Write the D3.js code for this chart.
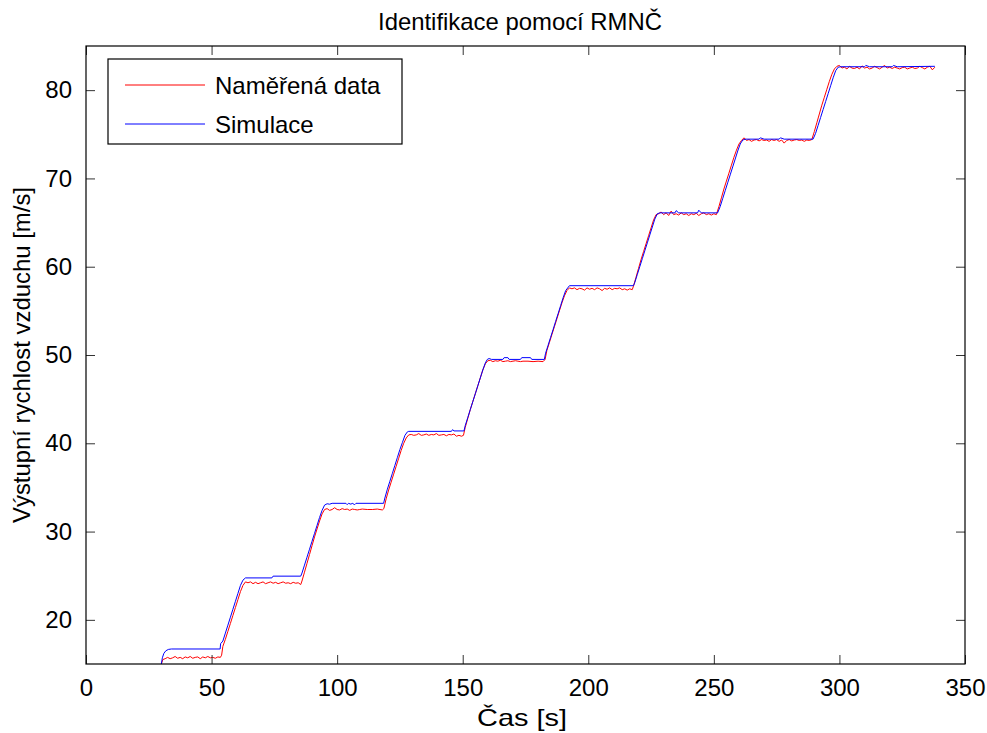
<!DOCTYPE html>
<html>
<head>
<meta charset="utf-8">
<script src="https://cdn.jsdelivr.net/npm/d3@7"></script>
<style>
  body { margin: 0; background: #fff; }
  svg { display: block; }
  .tick-label { font-family: "Liberation Sans", Arial, sans-serif; font-size: 24px; fill: #000; }
  .label { font-family: "Liberation Sans Narrow", "Liberation Sans", Arial, sans-serif; fill: #000; }
</style>
</head>
<body>
<div id="chart"></div>
<script>
const titleText = "Identifikace pomocí RMNČ";
const xLabel = "Čas [s]";
const yLabel = "Výstupní rychlost vzduchu [m/s]";
const seriesNames = ["Naměřená data", "Simulace"];
const xTicks = [0, 50, 100, 150, 200, 250, 300, 350];
const yTicks = [20, 30, 40, 50, 60, 70, 80];

// measured data (red)
const measT = [30, 30.6, 31.5, 32.5, 33.5, 34.5, 35.5, 36.5, 37.5, 38.5, 39.5, 40.5, 41.5, 42.5, 43.5, 44.5, 45.5, 46.5, 47.5, 48.5, 49.5, 50.5, 51.5, 52.5, 53.5, 54, 54.5, 55.5, 56.5, 57.5, 58.5, 59.5, 60.5, 61.5, 62.5, 63.5,
  64.5, 65.5, 66.5, 67.5, 68.5, 69.5, 70.5, 71.5, 72.5, 73.5, 74.5, 75.5, 76.5, 77.5, 78.5, 79.5, 80.5, 81.5, 82.5, 83.5, 84.5, 85.5,
  86, 87, 88, 89, 90, 91, 92, 93, 94, 95, 96, 97, 98, 99, 100, 101, 102, 103, 104, 105, 106, 107, 108, 109, 110, 112, 114, 116, 118, 118.6,
  119.5, 120.5, 121.5, 122.5, 123.5, 124.5, 125.5, 126.5, 127.5, 128.5, 129.5, 130.5, 131.5, 132.5, 133.5, 134.5, 135.5, 136.5, 137.5, 138.5, 139.5, 140.5, 141.5, 142.5, 143.5, 144.5, 145.5, 146.5, 147.5, 148.5, 149.5, 150.3,
  151, 152, 153, 154, 155, 156, 157, 158, 159, 160, 161, 162, 163, 164, 165, 166, 167, 168, 169, 170, 171, 172, 173, 174, 176, 178, 180, 182, 182.8,
  183.5, 184.5, 185.5, 186.5, 187.5, 188.5, 189.5, 190.5, 191.5, 192.5, 193.5, 194.5, 195.5, 196.5, 197.5, 198.5, 199.5, 200.5, 201.5, 202.5, 203.5, 204.5, 205.5, 206.5, 207.5, 208.5, 209.5, 210.5, 211.5, 212.5, 213.5, 214.5, 215.5, 216.5, 217.5,
  218, 219, 220, 221, 222, 223, 224, 225, 226, 227, 228, 229, 230, 231, 232, 233, 234, 235, 236, 237, 238, 239, 240, 241, 242, 243, 244, 245, 246, 247, 248, 249, 250, 251,
  252, 253, 254, 255, 256, 257, 258, 259, 260, 261, 262, 263, 264, 265, 266, 267, 268, 269, 270, 271, 272, 273, 274, 275, 276, 277, 278, 279, 280, 281, 282, 283, 284, 285, 286, 287, 288, 289,
  290, 291, 292, 293, 294, 295, 296, 297, 298, 299, 300, 301, 302, 303, 304, 305, 306, 307, 308, 309, 310, 311, 312, 313, 314, 315, 316, 317, 318, 319, 320, 321, 322, 323, 324, 325, 326, 327, 328, 329, 330, 331, 332, 333, 334, 335, 336, 337, 338];
const measV = [15, 15.5, 15.6, 15.75, 15.6, 15.7, 15.85, 15.65, 15.75, 15.6, 15.8, 15.7, 15.85, 15.65, 15.75, 15.8, 15.6, 15.8, 15.7, 15.85, 15.7, 15.75, 15.65, 15.8, 15.75, 16, 17, 17.8, 18.7, 19.6, 20.5, 21.4, 22.3, 23.2, 23.9, 24.3,
  24.2, 24.3, 24.1, 24.25, 24.1, 24.2, 24.3, 24.1, 24.2, 24.3, 24.15, 24.25, 24.1, 24.2, 24.3, 24.15, 24.2, 24.1, 24.25, 24.15, 24.2, 24,
  24.4, 25.4, 26.4, 27.4, 28.4, 29.4, 30.3, 31.2, 32.0, 32.5, 32.6, 32.4, 32.5, 32.7, 32.5, 32.45, 32.6, 32.5, 32.55, 32.4, 32.55, 32.5, 32.45, 32.5, 32.55, 32.5, 32.5, 32.55, 32.45, 32.6,
  33.7, 34.7, 35.6, 36.5, 37.4, 38.3, 39.2, 40.0, 40.6, 40.95, 41, 40.9, 40.95, 41.1, 40.9, 40.95, 41.05, 40.9, 41, 40.95, 41.1, 40.9, 40.95, 41, 40.85, 41, 40.95, 41.05, 40.8, 40.9, 40.8, 40.9,
  41.8, 42.8, 43.8, 44.7, 45.6, 46.5, 47.4, 48.3, 49.0, 49.35, 49.4, 49.25, 49.35, 49.3, 49.4, 49.25, 49.3, 49.35, 49.25, 49.3, 49.35, 49.3, 49.25, 49.3, 49.3, 49.25, 49.3, 49.25, 49.5,
  50.5, 51.4, 52.3, 53.2, 54.1, 55.0, 55.9, 56.7, 57.3, 57.6, 57.5, 57.6, 57.4, 57.55, 57.5, 57.35, 57.6, 57.45, 57.55, 57.4, 57.6, 57.5, 57.3, 57.55, 57.45, 57.6, 57.4, 57.55, 57.5, 57.6, 57.4, 57.5, 57.35, 57.5, 57.4,
  57.8, 58.8, 59.8, 60.8, 61.7, 62.6, 63.5, 64.4, 65.3, 65.9, 66, 66.2, 65.9, 66.1, 65.8, 66.3, 65.9, 66, 65.85, 66.1, 65.9, 66, 65.8, 66, 65.9, 66.05, 65.8, 66, 66.1, 65.9, 66, 65.85, 66, 65.9,
  66.8, 67.8, 68.8, 69.7, 70.6, 71.5, 72.4, 73.2, 73.9, 74.3, 74.6, 74.3, 74.4, 74.2, 74.35, 74.4, 74.25, 74.4, 74.3, 74.35, 74.2, 74.4, 74.3, 74.4, 74.2, 74.35, 74, 74.3, 74.4, 74.25, 74.35, 74.4, 74.3, 74.35, 74.2, 74.35, 74.3, 74.4,
  75.3, 76.3, 77.3, 78.3, 79.2, 80.1, 81.0, 81.8, 82.4, 82.7, 82.8, 82.5, 82.6, 82.4, 82.7, 82.5, 82.45, 82.6, 82.4, 82.75, 82.5, 82.6, 82.4, 82.5, 82.7, 82.55, 82.4, 82.6, 82.8, 82.5, 82.6, 82.45, 82.6, 82.5, 82.4, 82.55, 82.6, 82.4, 82.5, 82.6, 82.45, 82.5, 82.7, 82.55, 82.4, 82.6, 82.7, 82.3, 82.6];

// simulated model output (blue)
const simT = [30, 30.4, 31, 31.8, 32.8, 34, 53.4, 53.6, 54.5, 55.5, 56.5, 57.5, 58.5, 59.5, 60.5, 61.5, 62.5, 63.5, 74, 74.5, 85.5,
  86, 87, 88, 89, 90, 91, 92, 93, 94, 95, 96, 97, 98, 103.5, 104, 104.5, 105.5, 106, 107, 107.5, 118.5,
  119, 120, 121, 122, 123, 124, 125, 126, 127, 128, 128.5, 145.5, 146, 146.5, 150.5,
  151, 152, 153, 154, 155, 156, 157, 158, 159, 159.8, 160.5, 161.5, 166, 166.5, 168, 168.5, 173, 173.5, 177, 177.5, 182.5,
  183, 184, 185, 186, 187, 188, 189, 190, 191, 192.5, 218,
  218.5, 219.5, 220.5, 221.5, 222.5, 223.5, 224.5, 225.5, 226.5, 227.5, 228.5, 234.5, 235, 236, 243.5, 244, 245, 251.5,
  252.5, 253.5, 254.5, 255.5, 256.5, 257.5, 258.5, 259.5, 260.5, 261.5, 262.5, 268, 268.5, 270, 276, 276.5, 278, 289.5,
  290.5, 291.5, 292.5, 293.5, 294.5, 295.5, 296.5, 297.5, 298.5, 299.5, 300.5, 310, 310.5, 312, 321, 321.5, 323, 338];
const simV = [15, 15.7, 16.2, 16.5, 16.65, 16.7, 16.7, 17.3, 17.6, 18.5, 19.4, 20.3, 21.2, 22.1, 23.0, 23.9, 24.5, 24.75, 24.75, 24.95, 24.95,
  25.3, 26.2, 27.1, 28.0, 28.9, 29.8, 30.7, 31.6, 32.4, 33.0, 33.15, 33.1, 33.2, 33.2, 33.05, 33.2, 33.1, 33.2, 33.05, 33.2, 33.2,
  33.8, 34.8, 35.7, 36.6, 37.5, 38.4, 39.3, 40.1, 40.9, 41.3, 41.35, 41.35, 41.55, 41.4, 41.4,
  42, 42.9, 43.8, 44.7, 45.6, 46.5, 47.4, 48.3, 49.1, 49.5, 49.6, 49.5, 49.5, 49.7, 49.7, 49.5, 49.5, 49.7, 49.7, 49.5, 49.5,
  50.2, 51.1, 52.0, 52.9, 53.8, 54.7, 55.6, 56.5, 57.3, 57.85, 57.85,
  58.2, 59.1, 60.0, 60.9, 61.8, 62.7, 63.6, 64.5, 65.4, 66.0, 66.1, 66.1, 66.35, 66.1, 66.1, 66.4, 66.1, 66.1,
  66.8, 67.7, 68.6, 69.5, 70.4, 71.3, 72.2, 73.1, 73.9, 74.35, 74.45, 74.45, 74.6, 74.45, 74.45, 74.6, 74.45, 74.45,
  75.1, 76.0, 76.9, 77.8, 78.7, 79.6, 80.5, 81.4, 82.2, 82.6, 82.65, 82.65, 82.8, 82.65, 82.65, 82.8, 82.65, 82.7];

const W = 987, H = 733;
const margin = {top: 46, right: 22, bottom: 69, left: 86};
const iw = W - margin.left - margin.right;
const ih = H - margin.top - margin.bottom;

const svg = d3.select("#chart").append("svg")
  .attr("width", W)
  .attr("height", H);

const g = svg.append("g")
  .attr("transform", `translate(${margin.left},${margin.top})`);

const x = d3.scaleLinear().domain([0, 350]).range([0, iw]);
const y = d3.scaleLinear().domain([15, 85]).range([ih, 0]);

svg.append("defs").append("clipPath").attr("id", "clip")
  .append("rect").attr("width", iw).attr("height", ih);

// data lines
const measured = measT.map((t, i) => [t, measV[i]]);
const simulated = simT.map((t, i) => [t, simV[i]]);
const line = d3.line().x(d => x(d[0])).y(d => y(d[1]));

const plot = g.append("g").attr("clip-path", "url(#clip)");
plot.append("path").datum(measured)
  .attr("d", line).attr("fill", "none").attr("stroke", "#ff0000").attr("stroke-width", 1);
plot.append("path").datum(simulated)
  .attr("d", line).attr("fill", "none").attr("stroke", "#0000ff").attr("stroke-width", 1);

// axes, ticks on all four sides pointing inwards
const tl = 9;
const xb = g.append("g").attr("transform", `translate(0,${ih})`)
  .call(d3.axisBottom(x).tickValues(xTicks).tickSizeInner(-tl).tickSizeOuter(0).tickPadding(15));
const xt = g.append("g")
  .call(d3.axisTop(x).tickValues(xTicks).tickSizeInner(-tl).tickSizeOuter(0).tickFormat(""));
const yl = g.append("g")
  .call(d3.axisLeft(y).tickValues(yTicks).tickSizeInner(-tl).tickSizeOuter(0).tickPadding(14));
const yr = g.append("g").attr("transform", `translate(${iw},0)`)
  .call(d3.axisRight(y).tickValues(yTicks).tickSizeInner(-tl).tickSizeOuter(0).tickFormat(""));

[xb, xt, yl, yr].forEach(a => {
  a.select(".domain").remove();
  a.selectAll(".tick line").attr("stroke", "#333");
  a.selectAll("text").attr("class", "tick-label").attr("font-size", null).attr("font-family", null);
});
xb.selectAll("text").attr("dy", "0.71em");

g.append("rect")
  .attr("width", iw).attr("height", ih)
  .attr("fill", "none").attr("stroke", "#000").attr("stroke-width", 1.2);

// title and axis labels
svg.append("text").attr("class", "label")
  .attr("x", 520).attr("y", 30)
  .attr("text-anchor", "middle")
  .attr("font-size", 24)
  .attr("textLength", 284).attr("lengthAdjust", "spacingAndGlyphs")
  .text(titleText);

svg.append("text").attr("class", "label")
  .attr("x", 522).attr("y", 726)
  .attr("text-anchor", "middle")
  .attr("font-size", 24)
  .attr("textLength", 90).attr("lengthAdjust", "spacingAndGlyphs")
  .text(xLabel);

svg.append("text").attr("class", "label")
  .attr("transform", `translate(30,${margin.top + ih / 2}) rotate(-90)`)
  .attr("text-anchor", "middle")
  .attr("font-size", 24)
  .attr("textLength", 336).attr("lengthAdjust", "spacingAndGlyphs")
  .text(yLabel);

// legend
const legend = g.append("g").attr("transform", "translate(22,13)");
legend.append("rect")
  .attr("width", 294).attr("height", 85)
  .attr("fill", "#fff").attr("stroke", "#000").attr("stroke-width", 1.2);
const colors = ["#ff0000", "#0000ff"];
seriesNames.forEach((name, i) => {
  const ly = 26 + i * 39;
  legend.append("line")
    .attr("x1", 17).attr("x2", 97).attr("y1", ly).attr("y2", ly)
    .attr("stroke", colors[i]).attr("stroke-width", 1);
  legend.append("text").attr("class", "tick-label")
    .attr("x", 107).attr("y", ly + 9)
    .text(name);
});
</script>
</body>
</html>
